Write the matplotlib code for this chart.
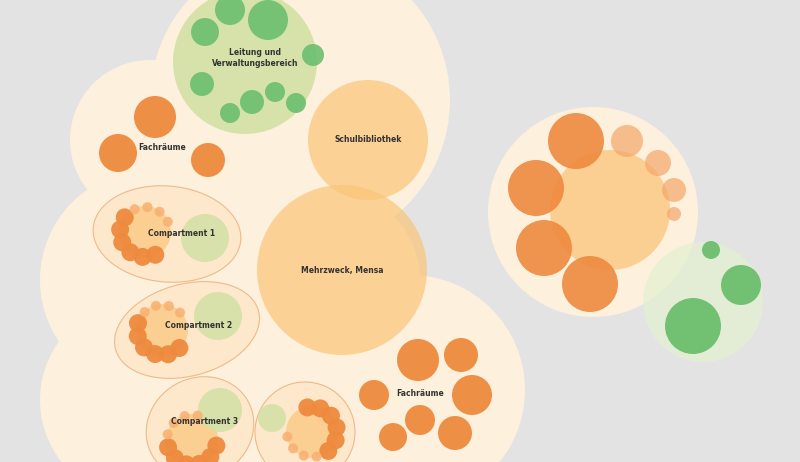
import matplotlib
matplotlib.use("Agg")
import matplotlib.pyplot as plt
from matplotlib.patches import Circle, Ellipse
import numpy as np

BG = "#e3e3e3"
CREAM = "#fdf0dd"
ORANGE = "#ee8a3e"
LORANGE = "#fbc578"
LGREEN = "#d3e1a6"
GREEN = "#6cbf6e"

# cream blob (x, y, r)
blob_x = [300, 150, 150, 140, 330, 410, 200, 250]
blob_y = [100, 140, 280, 400, 280, 390, 200, 420]
blob_r = [150, 80, 110, 100, 90, 115, 100, 90]

# green group
green_big = (245, 62, 72)
green_x = [230, 268, 205, 313, 202, 252, 275, 296, 230]
green_y = [10, 20, 32, 55, 84, 102, 92, 103, 113]
green_r = [15, 20, 14, 11, 12, 12, 10, 10, 10]

rooms_x = [368, 342]
rooms_y = [140, 270]
rooms_r = [60, 85]
rooms_lbl = ["Schulbibliothek", "Mehrzweck, Mensa"]

fach1_x = [155, 118, 208]
fach1_y = [117, 153, 160]
fach1_r = [21, 19, 17]

fach2_x = [418, 461, 472, 374, 420, 455, 393]
fach2_y = [360, 355, 395, 395, 420, 433, 437]
fach2_r = [21, 17, 20, 15, 15, 17, 14]

# compartments: core centre, green partner, outline ellipse, label
comp_x = [145, 162, 192, 312]
comp_y = [232, 330, 440, 432]
comp_green = [(205, 238, 24), (218, 316, 24), (220, 410, 22), (272, 418, 14)]
comp_shell = [(167, 234, 148, 96, 5), (187, 330, 148, 92, -15),
              (200, 428, 110, 100, -30), (305, 432, 100, 100, 0)]
comp_lbl = ["Compartment 1", "Compartment 2", "Compartment 3", ""]
comp_lbl_xy = [(182, 234), (199, 326), (205, 421), (0, 0)]

# right cluster
rc = (593, 212, 105)
rc_core = (610, 210, 60)
ro_x = [536, 576, 544, 590]
ro_y = [188, 141, 248, 284]
ro_r = [28, 28, 28, 28]
rl_x = [627, 658, 674, 674]
rl_y = [141, 163, 190, 214]
rl_r = [16, 13, 12, 7]
rg_big = (703, 302, 60)
rg_x = [693, 741, 711]
rg_y = [326, 285, 250]
rg_r = [28, 20, 9]

fig = plt.figure(figsize=(8, 4.62), dpi=100)
fig.patch.set_facecolor(BG)
ax = fig.add_axes([0, 0, 1, 1])
ax.set_xlim(0, 800)
ax.set_ylim(462, 0)
ax.set_aspect("equal")
ax.axis("off")


def circ(x, y, r, c, a=1.0, z=1):
    ax.add_patch(Circle((x, y), r, facecolor=c, alpha=a, zorder=z, edgecolor="none"))


def label(x, y, t):
    ax.text(x, y, t, fontsize=5.5, ha="center", va="center", zorder=6,
            fontweight="bold", color="#333333")


for x, y, r in zip(blob_x, blob_y, blob_r):
    circ(x, y, r, CREAM, z=1)

circ(*green_big, LGREEN, a=0.9, z=2)
for x, y, r in zip(green_x, green_y, green_r):
    circ(x, y, r, GREEN, a=0.9, z=3)
label(255, 58, "Leitung und\nVerwaltungsbereich")

for x, y, r, t in zip(rooms_x, rooms_y, rooms_r, rooms_lbl):
    circ(x, y, r, LORANGE, a=0.7, z=2)
    label(x, y, t)

for x, y, r in zip(fach1_x, fach1_y, fach1_r):
    circ(x, y, r, ORANGE, a=0.95, z=3)
label(162, 148, "Fachräume")
for x, y, r in zip(fach2_x, fach2_y, fach2_r):
    circ(x, y, r, ORANGE, a=0.95, z=3)
label(420, 393, "Fachräume")

for cx, cy, g, sh, lbl, lxy in zip(comp_x, comp_y, comp_green, comp_shell, comp_lbl, comp_lbl_xy):
    gx, gy, gr = g
    ex, ey, ew, eh, ea = sh
    ax.add_patch(Ellipse((ex, ey), ew, eh, angle=ea, facecolor="#fde8cc",
                         edgecolor="#f0b98a", lw=0.8, zorder=2))
    circ(cx, cy, 26, LORANGE, a=0.7, z=3)
    circ(gx, gy, gr, LGREEN, a=0.9, z=3)
    ang = np.degrees(np.arctan2(gy - cy, gx - cx))
    for k in range(10):
        t = np.radians(ang + 60 + k * 30)
        if k < 6:
            circ(cx + 25 * np.cos(t), cy + 25 * np.sin(t), 9, ORANGE, a=0.95, z=4)
        else:
            circ(cx + 25 * np.cos(t), cy + 25 * np.sin(t), 5, "#f8b070", a=0.85, z=4)
    if lbl:
        label(*lxy, lbl)

circ(*rc, CREAM, z=1)
circ(*rc_core, LORANGE, a=0.75, z=2)
for x, y, r in zip(ro_x, ro_y, ro_r):
    circ(x, y, r, ORANGE, a=0.9, z=3)
for x, y, r in zip(rl_x, rl_y, rl_r):
    circ(x, y, r, "#f5a66a", a=0.7, z=3)
circ(*rg_big, "#e3f0d0", a=0.7, z=4)
for x, y, r in zip(rg_x, rg_y, rg_r):
    circ(x, y, r, GREEN, a=0.95, z=5)

fig.savefig("out.png", dpi=100, facecolor=BG)
